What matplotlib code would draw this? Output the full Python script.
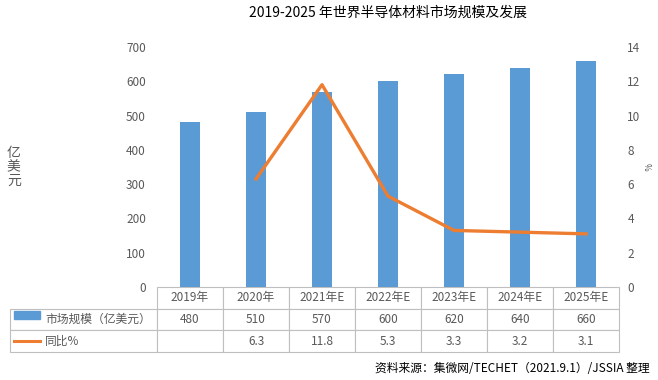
import numpy as np
import matplotlib
matplotlib.use('Agg')
import matplotlib.pyplot as plt
from matplotlib.patches import Rectangle
from matplotlib.lines import Line2D

plt.rcParams['font.family'] = ['Noto Sans CJK SC', 'DejaVu Sans']

# data
years = ['2019年', '2020年', '2021年E', '2022年E', '2023年E', '2024年E', '2025年E']
market = [480, 510, 570, 600, 620, 640, 660]
growth = [np.nan, 6.3, 11.8, 5.3, 3.3, 3.2, 3.1]
growth_txt = ['', '6.3', '11.8', '5.3', '3.3', '3.2', '3.1']
bar_label = '市场规模（亿美元）'
line_label = '同比%'

bar_col = '#5B9BD5'
line_col = '#ED7D31'
txt_col = '#595959'
grid_col = '#BFBFBF'

fig = plt.figure(figsize=(6.58, 3.80), dpi=100)
ax = fig.add_axes([157/658, 1-287/380, 462/658, 240/380])
ax2 = ax.twinx()

x = np.arange(len(years))
ax.bar(x, market, width=0.3, color=bar_col, zorder=2)
ax2.plot(x, growth, color=line_col, lw=2.4, zorder=3)

ax.set_xlim(-0.5, len(years)-0.5)
ax.set_ylim(0, 700)
ax.set_yticks(range(0, 701, 100))
ax2.set_ylim(0, 14)
ax2.set_yticks(range(0, 15, 2))
ax.set_xticks([])
for a in (ax, ax2):
    for s in a.spines.values():
        s.set_visible(False)
    a.tick_params(length=0, labelsize=8.5, labelcolor=txt_col, pad=8)
ax2.tick_params(pad=6)

ax.text(-0.31, 0.5, '亿\n美\n元', transform=ax.transAxes, fontsize=10,
        color=txt_col, ha='center', va='center', linespacing=1.0)
ax2.set_ylabel('%', rotation=-90, fontsize=6, color=txt_col, labelpad=7)

ax.set_title('2019-2025 年世界半导体材料市场规模及发展', fontsize=10, pad=22)

# data table under the plot
cells = [[''] + years,
         [bar_label] + [str(v) for v in market],
         [line_label] + growth_txt]
w0 = 147/462
widths = [w0] + [1/7]*7
tb = ax.table(cellText=cells, colWidths=widths, cellLoc='center',
              bbox=[-w0, -65/240, 1 + w0, 65/240])
tb.auto_set_font_size(False)
tb.set_fontsize(8.5)
for (r, c), cell in tb.get_celld().items():
    cell.set_edgecolor(grid_col)
    cell.set_linewidth(0.8)
    cell.get_text().set_color(txt_col)
    if r == 0 and c == 0:
        cell.visible_edges = ''
    if c == 0 and r > 0:
        cell._loc = 'left'
        cell.PAD = 0.24
        cell.get_text().set_ha('left')

# legend keys in the table
ax.add_patch(Rectangle((-w0 + 4/462, -(32/240)), 26/462, 8/240,
                       transform=ax.transAxes, color=bar_col, clip_on=False))
ax.add_line(Line2D([-w0 + 4/462, -w0 + 30/462], [-(54/240), -(54/240)],
                   transform=ax.transAxes, color=line_col, lw=2.2, clip_on=False))

fig.text(650/658, 1-368/380, '资料来源：集微网/TECHET（2021.9.1）/JSSIA 整理',
         ha='right', va='center', fontsize=8.5)

fig.savefig('out.png', dpi=100)
